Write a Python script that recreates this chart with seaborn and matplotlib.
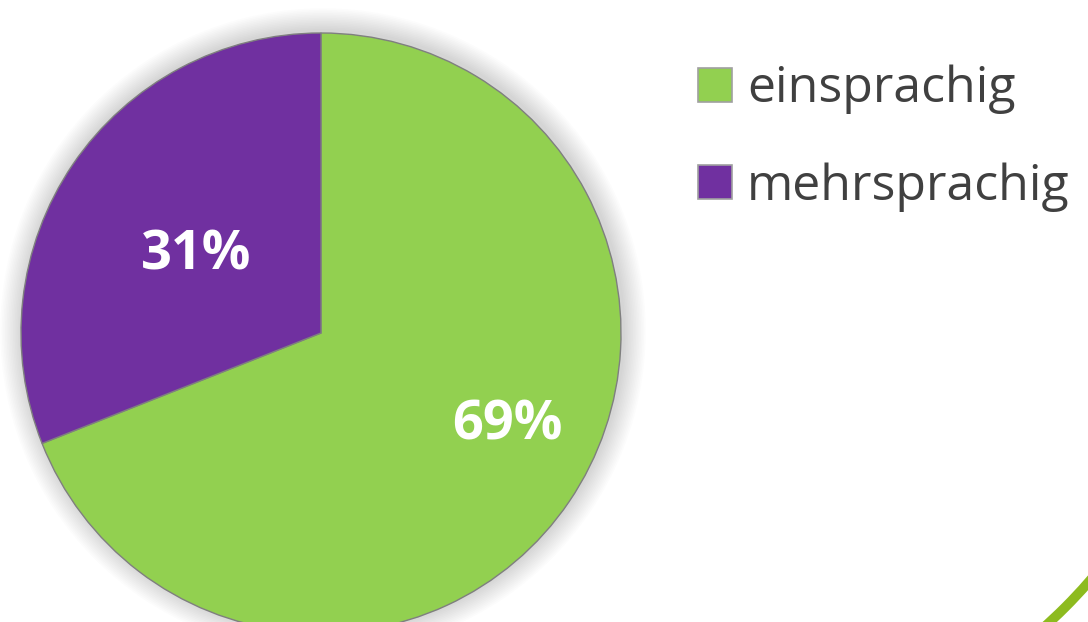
import matplotlib.pyplot as plt
import matplotlib.patches as mpatches
import seaborn as sns

# Anteil ein-/mehrsprachiger Befragter
categories = ['einsprachig', 'mehrsprachig']
shares = [69, 31]
colors = ['#92D050', '#7030A0']

sns.set_theme(style='white')
plt.rcParams['font.family'] = ['Open Sans', 'DejaVu Sans']

fig = plt.figure(figsize=(10.88, 6.22), dpi=100)
ax = fig.add_axes([0, 0, 1, 1])
ax.set_xlim(0, 1088)
ax.set_ylim(0, 622)
ax.set_aspect('equal')
ax.axis('off')

center = (321, 289)
radius = 300

# soft shadow around the pie
for i in range(14):
    ax.add_patch(mpatches.Circle((center[0] + 2, center[1] + 2), radius + 2 + i * 1.6,
                                 color='black', alpha=0.012, lw=0, zorder=0))

wedges, texts, autotexts = ax.pie(
    shares, colors=colors, startangle=90, counterclock=False,
    center=center, radius=radius, autopct='%1.0f%%', pctdistance=0.49,
    wedgeprops=dict(edgecolor='#7f7f7f', linewidth=1.0),
    textprops=dict(color='white', fontsize=39, fontweight='bold'))
ax.set_xlim(0, 1088)
ax.set_ylim(0, 622)

# Excel "best fit" places the big label further out
autotexts[0].set_position((center[0] + 186, center[1] - 92))
autotexts[1].set_position((center[0] - 125, center[1] + 78))

leg = ax.legend(wedges, categories, loc='upper left',
                bbox_to_anchor=(698 / 1088, 1 - 65 / 622),
                frameon=False, fontsize=36, handlelength=0.68,
                handleheight=0.68, handletextpad=0.3, labelspacing=0.95,
                borderpad=0, borderaxespad=0)
for t in leg.get_texts():
    t.set_color('#404040')
for h in leg.legend_handles:
    h.set_edgecolor('#a0a0a0')
    h.set_linewidth(1.2)

# decorative green arc in the corner
ax.add_patch(mpatches.Arc((706, 374), 1016, 1016, theta1=-60, theta2=-30,
                          color='#8DBB1F', linewidth=7, zorder=5))

fig.savefig('out.png', dpi=100)
